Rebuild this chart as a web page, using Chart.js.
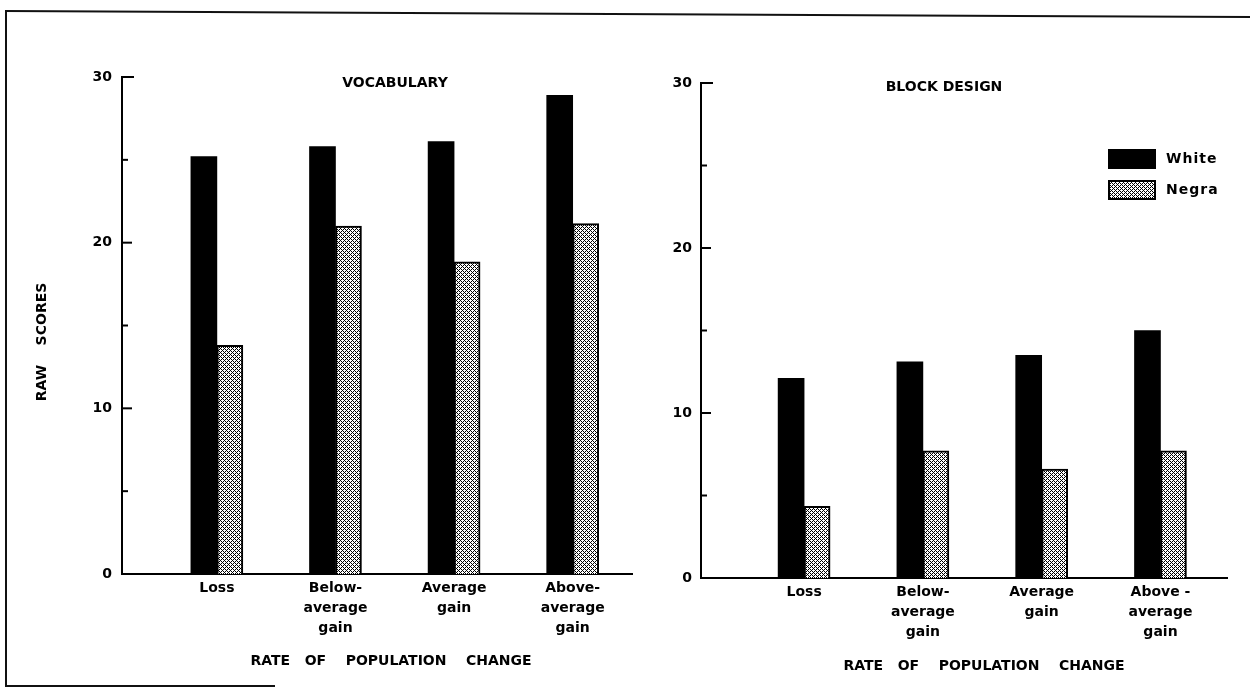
<!DOCTYPE html>
<html>
<head>
<meta charset="utf-8">
<script src="https://cdn.jsdelivr.net/npm/chart.js@4"></script>
<style>
  body { margin: 0; background: #fff; width: 1250px; height: 692px; overflow: hidden; position: relative; }
  .panel { position: absolute; top: 0; }
  .edge { position: absolute; background: #111; }
</style>
</head>
<body>
<div class="edge" style="left:5px;top:10px;width:1245px;height:2px;transform:rotate(0.28deg);transform-origin:left top"></div>
<div class="edge" style="left:5px;top:10px;width:2px;height:677px"></div>
<div class="edge" style="left:5px;top:685px;width:270px;height:2px"></div>
<div class="panel" style="left:0"><canvas id="vocab" width="645" height="692"></canvas></div>
<div class="panel" style="left:645px"><canvas id="block" width="605" height="692"></canvas></div>
<script>
// rate of population change groups
const categories = [["Loss"], ["Below-", "average", "gain"], ["Average", "gain"], ["Above-", "average", "gain"]];
const categoriesBlock = [["Loss"], ["Below-", "average", "gain"], ["Average", "gain"], ["Above -", "average", "gain"]];

// raw scores
const vocabWhite = [25.2, 25.8, 26.1, 28.9];
const vocabNegro = [13.8, 21.0, 18.85, 21.15];
const blockWhite = [12.1, 13.1, 13.5, 15.0];
const blockNegro = [4.35, 7.7, 6.6, 7.7];

const seriesNames = ["White", "Negra"];
const yTicks = [0, 10, 20, 30];

const FONT = '"DejaVu Sans", sans-serif';

function stipple() {
    const c = document.createElement("canvas");
    c.width = 4; c.height = 4;
    const g = c.getContext("2d");
    g.fillStyle = "#fff";
    g.fillRect(0, 0, 4, 4);
    g.fillStyle = "#000";
    [[0,0],[1,1],[2,2],[3,3],[1,3],[3,1]].forEach(p => g.fillRect(p[0], p[1], 1, 1));
    return g.createPattern(c, "repeat");
}
const dots = stipple();

// tick marks inside the axis, panel titles, legend
const scanMarks = {
    id: "scanMarks",
    afterDraw(chart, args, opts) {
        const {ctx, chartArea} = chart;
        const y = chart.scales.y;
        ctx.save();
        ctx.strokeStyle = "#000";
        ctx.lineWidth = 2;
        for (let v = 0; v <= y.max; v += 5) {
            const py = y.getPixelForValue(v);
            const len = v === y.max ? 12 : (v % 10 === 0 ? 10 : 6);
            ctx.beginPath();
            ctx.moveTo(chartArea.left, py);
            ctx.lineTo(chartArea.left + len, py);
            ctx.stroke();
        }
        ctx.fillStyle = "#000";
        ctx.textBaseline = "middle";
        ctx.textAlign = "center";
        ctx.font = "bold 14px " + FONT;
        const mid = (chartArea.left + chartArea.right) / 2;
        ctx.fillText(opts.title, mid + opts.titleDx, opts.titleY);
        ctx.fillText(opts.xTitle, mid + opts.xTitleDx, opts.xTitleY);
        if (opts.yTitle) {
            ctx.save();
            ctx.translate(opts.yTitleX, opts.yTitleY);
            ctx.rotate(-Math.PI / 2);
            ctx.fillText(opts.yTitle, 0, 0);
            ctx.restore();
        }
        if (opts.legend) {
            const lx = opts.legend.x, ly = opts.legend.y;
            chart.data.datasets.forEach((ds, i) => {
                const by = ly + i * 31;
                ctx.fillStyle = ds.backgroundColor;
                ctx.fillRect(lx, by, 48, 20);
                if (ds.borderWidth) {
                    ctx.strokeRect(lx + 1, by + 1, 46, 18);
                }
                ctx.fillStyle = "#000";
                ctx.textAlign = "left";
                ctx.font = "bold 14px " + FONT;
                ctx.letterSpacing = "1px";
                ctx.fillText(ds.label, lx + 58, by + 10);
            });
        }
        ctx.restore();
    }
};

function makeChart(id, labels, white, negro, o) {
    const pts = vals => vals.map((v, i) => ({x: i + 1, y: v}));
    return new Chart(id, {
        type: "bar",
        data: {
            datasets: [
                {label: seriesNames[0], data: pts(white), backgroundColor: "#000", borderWidth: 0},
                {label: seriesNames[1], data: pts(negro), backgroundColor: dots, borderColor: "#000",
                 borderWidth: 2, borderSkipped: "bottom"}
            ]
        },
        options: {
            responsive: false,
            animation: false,
            events: [],
            barThickness: 26,
            layout: {padding: {top: o.top, right: o.right, left: 0, bottom: 0}},
            plugins: {
                legend: {display: false},
                tooltip: {enabled: false},
                scanMarks: o.marks
            },
            scales: {
                x: {
                    type: "linear",
                    min: o.xMin,
                    max: o.xMax,
                    offset: false,
                    grid: {display: false, drawTicks: false},
                    border: {display: true, color: "#000", width: 2},
                    afterBuildTicks: s => { s.ticks = labels.map((l, i) => ({value: i + 1})); },
                    afterFit: s => { s.height = o.xHeight; },
                    ticks: {
                        autoSkip: false,
                        maxRotation: 0,
                        padding: 4,
                        color: "#000",
                        font: {family: FONT, size: 14, weight: "bold", lineHeight: 1.43},
                        callback: v => labels[v - 1] || ""
                    }
                },
                y: {
                    min: 0,
                    max: 30,
                    grid: {display: false, drawTicks: false},
                    border: {display: true, color: "#000", width: 2},
                    afterBuildTicks: s => { s.ticks = yTicks.map(v => ({value: v})); },
                    afterFit: s => { s.width = o.yWidth; },
                    ticks: {
                        padding: o.yPad,
                        color: "#000",
                        font: {family: FONT, size: 14, weight: "bold"}
                    }
                }
            }
        },
        plugins: [scanMarks]
    });
}

makeChart("vocab", categories, vocabWhite, vocabNegro, {
    top: 77, right: 13, xHeight: 118, yWidth: 122, yPad: 10, xMin: 0.2, xMax: 4.5,
    marks: {title: "VOCABULARY", titleDx: 18, titleY: 83,
            xTitle: "RATE   OF    POPULATION    CHANGE", xTitleDx: 14, xTitleY: 661,
            yTitle: "RAW    SCORES", yTitleX: 42, yTitleY: 342}
});

makeChart("block", categoriesBlock, blockWhite, blockNegro, {
    top: 83, right: 23, xHeight: 114, yWidth: 56, yPad: 9, xMin: 0.132, xMax: 4.56,
    marks: {title: "BLOCK DESIGN", titleDx: -20, titleY: 87,
            xTitle: "RATE   OF    POPULATION    CHANGE", xTitleDx: 20, xTitleY: 666,
            legend: {x: 463, y: 149}}
});
</script>
</body>
</html>
